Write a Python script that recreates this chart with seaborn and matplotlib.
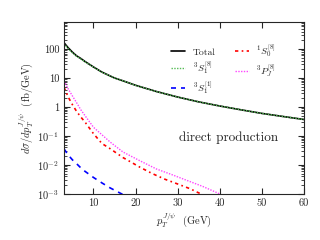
import numpy as np
import pandas as pd
import matplotlib
matplotlib.use('Agg')
import matplotlib.pyplot as plt
import seaborn as sns

# pT grid (GeV) and differential cross sections (fb/GeV)
pt_total = [3, 4, 5, 6, 7, 8, 10, 12, 15, 17, 20, 25, 30, 35, 40, 45, 50, 55, 60]
total = [165, 110, 78, 58, 47, 37, 24, 16, 10, 8, 5.6, 3.4, 2.2, 1.5, 1.08, 0.8, 0.6, 0.47, 0.37]
s1_octet = [152, 103, 74, 56, 45.5, 36, 23.7, 15.9, 9.95, 7.97, 5.58, 3.39, 2.2, 1.5, 1.08, 0.8, 0.6, 0.47, 0.37]

pt_p = [3, 4, 5, 6, 7, 8, 10, 12, 14, 17, 21, 25, 28, 32, 36, 40]
p_octet = [8, 4.2, 2.4, 1.4, 0.8, 0.5, 0.2, 0.11, 0.061, 0.028, 0.014, 0.0072, 0.005, 0.003, 0.0018, 0.001]

pt_s0 = [3, 4, 5, 6, 7, 8, 10, 12, 14, 17, 21, 24, 27, 30, 33, 35.5]
s0_octet = [4.8, 2.2, 1.2, 0.7, 0.45, 0.3, 0.12, 0.055, 0.036, 0.018, 0.0084, 0.005, 0.0032, 0.0022, 0.0015, 0.001]

pt_s1 = [3, 4, 5, 6, 7, 8, 10, 12, 14, 15.2, 17]
s1_singlet = [0.036, 0.022, 0.015, 0.011, 0.0079, 0.006, 0.0037, 0.0024, 0.0016, 0.0013, 0.00095]

sns.set_style('ticks')
plt.rcParams['font.family'] = ['cmr10', 'DejaVu Serif']
plt.rcParams['mathtext.fontset'] = 'cm'
plt.rcParams['axes.unicode_minus'] = False

fig = plt.figure(figsize=(3.2, 2.4), dpi=100)
ax = fig.add_axes([0.2, 0.192, 0.75, 0.716])

sns.lineplot(x=pt_total, y=total, ax=ax, color='black', lw=1.2, label='Total')
sns.lineplot(x=pt_total, y=s1_octet, ax=ax, color='#55bb55', lw=1.0,
             linestyle=(0, (1, 1)), label=r'$^3S_1^{[8]}$')
sns.lineplot(x=pt_s1, y=s1_singlet, ax=ax, color='#0000ff', lw=1.2,
             linestyle=(0, (3, 3)), label=r'$^3S_1^{[1]}$')
sns.lineplot(x=pt_s0, y=s0_octet, ax=ax, color='#ff0000', lw=1.2,
             linestyle=(0, (2, 2, 1, 2)), label=r'$^1S_0^{[8]}$')
sns.lineplot(x=pt_p, y=p_octet, ax=ax, color='#ff44ff', lw=1.0,
             linestyle=(0, (1, 1)), label=r'$^3P_J^{[8]}$')

ax.set_yscale('log')
ax.set_xlim(3, 60)
ax.set_ylim(1e-3, 850)
ax.set_xticks([10, 20, 30, 40, 50, 60])
ax.set_yticks([1e-3, 1e-2, 1e-1, 1, 10, 100])
ax.set_yticklabels([r'$10^{-3}$', r'$10^{-2}$', r'$10^{-1}$', '1', '10', '100'])
ax.tick_params(which='both', direction='in', top=True, right=True, labelsize=7.5)
ax.tick_params(which='major', length=4)
ax.tick_params(which='minor', length=2)
ax.set_xlabel(r'$p_T^{J/\psi}$  (GeV)', fontsize=7.5, labelpad=1)
ax.set_ylabel(r'$d\sigma/dp_T^{J/\psi}$  (fb/GeV)', fontsize=7.5, labelpad=2)

ax.text(42, 0.09, 'direct production', fontsize=9.5, ha='center', va='center')

ax.legend(ncol=2, frameon=False, fontsize=7, loc='upper left',
          bbox_to_anchor=(0.41, 0.93), handlelength=1.4, handletextpad=0.8,
          columnspacing=2.0, labelspacing=0.3)

fig.savefig('out.png', dpi=100)
